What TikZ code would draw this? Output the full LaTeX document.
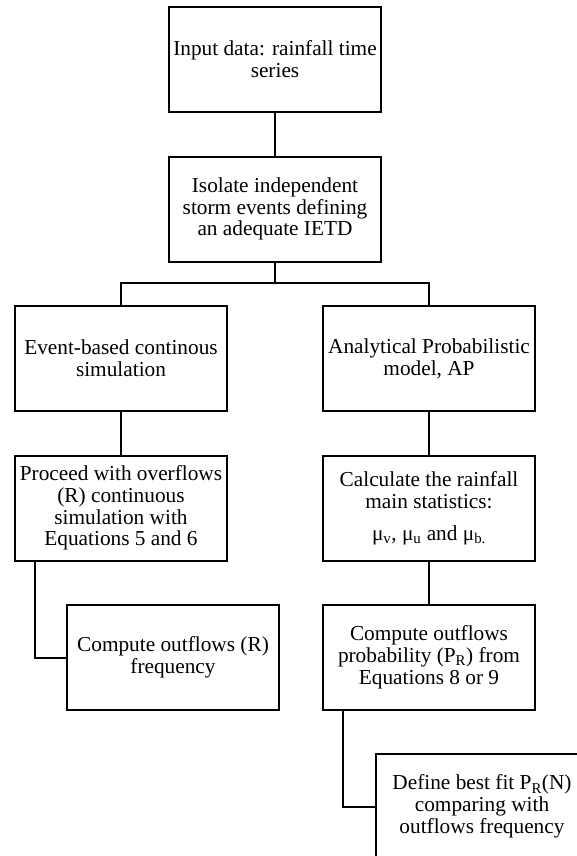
\documentclass[tikz,border=0pt]{standalone}
\usepackage{fontspec}
\setmainfont{Liberation Serif}
\usepackage{tikz}
\usetikzlibrary{positioning}

\begin{document}
\begin{tikzpicture}[x=1pt, y=-1pt,
		stepbox/.style={draw, line width=2pt, rectangle, minimum width=212pt, minimum height=105pt, inner sep=0pt, align=center, font=\fontsize{21.3}{21.8}\selectfont},
		link/.style={line width=2pt}]
	\clip (0,0) rectangle (577,856);
	\fill[white] (0,0) rectangle (577,856);

	\node[stepbox] (input) at (275, 59.5) {Input data: rainfall time\\series};
	\node[stepbox] (isolate) at (275, 209) {Isolate independent\\storm events defining\\an adequate IETD};

	\node[stepbox] (event) at (121, 358.5) {Event-based continous\\simulation};
	\node[stepbox] (ap) at (429, 358.5) {Analytical Probabilistic\\model, AP};

	\node[stepbox] (proceed) at (121, 508) {Proceed with overflows\\(R) continuous\\simulation with\\Equations 5 and 6};
	\node[stepbox] (calc) at (429, 508) {Calculate the rainfall\\main statistics:\\[10pt]μ\textsubscript{v}, μ\textsubscript{u} and μ\textsubscript{b.}};

	\node[stepbox] (freq) at (173, 657.5) {Compute outflows (R)\\frequency};
	\node[stepbox] (prob) at (429, 657) {Compute outflows\\probability (P\textsubscript{R}) from\\Equations 8 or 9};

	\node[stepbox] (fit) at (482, 806.5) {Define best fit P\textsubscript{R}(N)\\comparing with\\outflows frequency};

	% connectors
	\coordinate (bus) at (275, 283);
	\draw[link] (input) -- (isolate);
	\draw[link] (isolate.south) -- (bus) -| (event.north);
	\draw[link] (bus) -| (ap.north);
	\draw[link] (event) -- (proceed);
	\draw[link] (ap) -- (calc);
	\draw[link] (calc) -- (prob);
	\draw[link] (proceed.south west) ++(21,0) |- (freq.west);
	\draw[link] (prob.south west) ++(21,0) |- (fit.west);
\end{tikzpicture}
\end{document}
